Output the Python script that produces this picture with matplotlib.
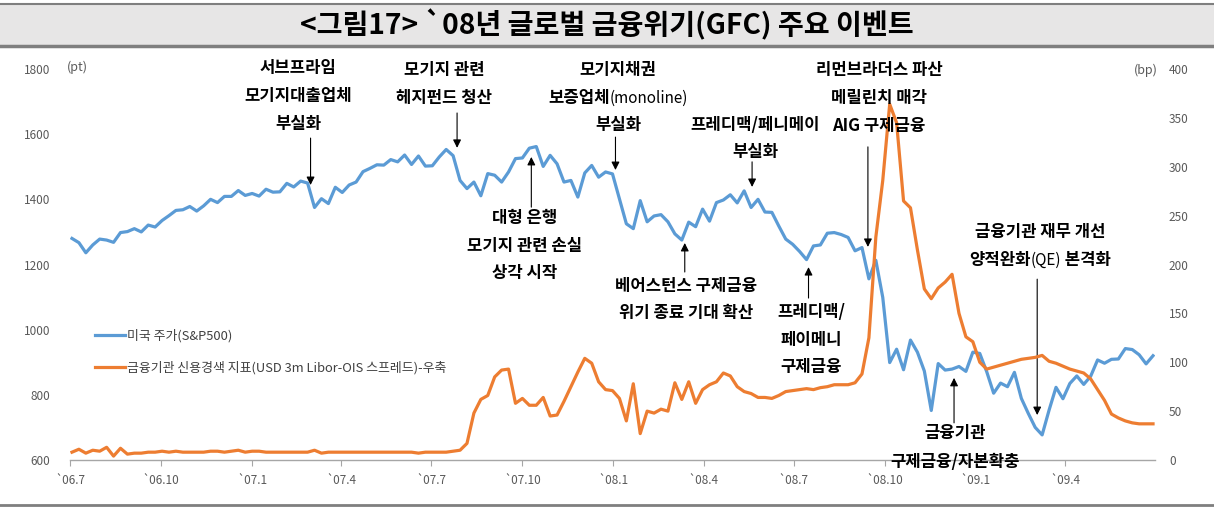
import matplotlib
matplotlib.use("Agg")
import matplotlib.pyplot as plt
from matplotlib.patches import Rectangle
from matplotlib.lines import Line2D
import pandas as pd

plt.rcParams['font.family'] = ['Noto Sans CJK KR', 'DejaVu Sans']

# ---------------- data (weekly, Monday-dated) ----------------
dates = pd.date_range('2006-07-03', periods=157, freq='7D')

sp500 = [
    # 2006
    1280, 1267, 1236, 1260, 1278, 1275, 1268, 1298, 1301, 1310, 1300, 1321, 1315,
    1335, 1350, 1366, 1368, 1378, 1364, 1380, 1400, 1390, 1409, 1409, 1427, 1412,
    # 2007
    1418, 1410, 1431, 1422, 1423, 1449, 1438, 1456, 1450, 1375, 1402, 1387, 1437,
    1421, 1444, 1453, 1485, 1495, 1506, 1505, 1522, 1515, 1536, 1507, 1533, 1502,
    1503, 1530, 1553, 1534, 1458, 1433, 1453, 1411, 1479, 1474, 1453, 1484, 1525,
    1527, 1557, 1562, 1501, 1535, 1509, 1453, 1458, 1407, 1481, 1504, 1468, 1484, 1478,
    # 2008
    1401, 1325, 1310, 1396, 1331, 1349, 1353, 1331, 1294, 1275, 1330, 1316, 1370,
    1333, 1390, 1398, 1414, 1389, 1426, 1375, 1400, 1361, 1360, 1318, 1278, 1262,
    1240, 1215, 1257, 1260, 1296, 1298, 1292, 1283, 1242, 1252, 1156, 1213, 1099,
    899, 940, 877, 968, 931, 873, 752, 896, 876, 879, 887, 872, 931,
    # 2009
    927, 871, 805, 836, 825, 869, 789, 743, 700, 677, 753, 823, 788,
    835, 858, 832, 857, 907, 897, 909, 910, 942, 939, 923, 895, 920,
]

libor_ois = [
    # 2006
    8, 11, 7, 10, 9, 13, 4, 12, 6, 7, 7, 8, 8,
    9, 8, 9, 8, 8, 8, 8, 9, 9, 8, 9, 10, 8,
    # 2007
    9, 9, 8, 8, 8, 8, 8, 8, 8, 10, 7, 8, 8,
    8, 8, 8, 8, 8, 8, 8, 8, 8, 8, 8, 7, 8,
    8, 8, 8, 9, 10, 17, 48, 62, 66, 85, 92, 93, 58,
    63, 56, 56, 64, 45, 46, 60, 75, 90, 104, 99, 80, 72, 71,
    # 2008
    63, 40, 78, 27, 50, 48, 52, 50, 79, 62, 80, 58, 72,
    77, 80, 89, 86, 75, 70, 68, 64, 64, 63, 66, 70, 71,
    72, 73, 72, 74, 75, 77, 77, 77, 79, 88, 125, 228, 286,
    364, 345, 265, 258, 215, 175, 165, 176, 182, 190, 150, 126, 121,
    # 2009
    100, 93, 95, 97, 99, 101, 103, 104, 105, 107, 101, 99, 96,
    93, 91, 89, 83, 72, 61, 47, 43, 40, 38, 37, 37, 37,
]

tick_dates = pd.date_range('2006-07-01', '2009-04-01', freq='QS-JAN')
tick_labels = ["`06.7", "`06.10", "`07.1", "`07.4", "`07.7", "`07.10",
               "`08.1", "`08.4", "`08.7", "`08.10", "`09.1", "`09.4"]

left_ticks = [600, 800, 1000, 1200, 1400, 1600, 1800]
right_ticks = [0, 50, 100, 150, 200, 250, 300, 350, 400]

series_labels = ["미국 주가(S&P500)",
                 "금융기관 신용경색 지표(USD 3m Libor-OIS 스프레드)-우축"]

# each line is a list of (text, bold?) parts
B = True
N = False
events = [
    ([[("서브프라임", B)], [("모기지대출업체", B)], [("부실화", B)]], 298, [68, 96, 124],
     ('2007-03-01', 1588), ('2007-03-01', 1444)),
    ([[("모기지 관련", B)], [("헤지펀드 청산", B)]], 444, [70, 98],
     ('2007-07-27', 1665), ('2007-07-27', 1558)),
    ([[("모기지채권", B)], [("보증업체", B), ("(monoline)", N)], [("부실화", B)]], 618, [70, 98, 125],
     ('2008-01-03', 1591), ('2008-01-03', 1490)),
    ([[("프레디맥/페니메이", B)], [("부실화", B)]], 755, [125, 152],
     ('2008-05-20', 1515), ('2008-05-20', 1438)),
    ([[("리먼브라더스 파산", B)], [("메릴린치 매각", B)], [("AIG 구제금융", B)]], 879, [70, 98, 126],
     ('2008-09-14', 1561), ('2008-09-14', 1254)),
    ([[("금융기관 재무 개선", B)], [("양적완화", B), ("(QE)", N), (" 본격화", B)]], 1040, [232, 260],
     ('2009-03-04', 1155), ('2009-03-04', 738)),
    ([[("대형 은행", B)], [("모기지 관련 손실", B)], [("상각 시작", B)]], 525, [218, 246, 273],
     ('2007-10-10', 1376), ('2007-10-10', 1530)),
    ([[("베어스턴스 구제금융", B)], [("위기 종료 기대 확산", B)]], 686, [286, 313],
     ('2008-03-13', 1177), ('2008-03-13', 1266)),
    ([[("프레디맥/", B)], [("페이메니", B)], [("구제금융", B)]], 811, [312, 340, 367],
     ('2008-07-16', 1097), ('2008-07-16', 1192)),
    ([[("금융기관", B)], [("구제금융/자본확충", B)]], 955, [433, 462],
     ('2008-12-10', 714), ('2008-12-10', 852)),
]

BLUE = '#5B9BD5'
ORANGE = '#ED7D31'
GRAY = '#595959'

W, H = 1214, 511
fig = plt.figure(figsize=(W / 100, H / 100), dpi=100)
fig.patch.set_facecolor('white')

def fx(x):
    return x / W

def fy(y):
    return 1 - y / H

# title band
fig.patches.append(Rectangle((0, fy(46)), 1, fy(4) - fy(46), transform=fig.transFigure,
                             facecolor='#e7e6e6', edgecolor='none', zorder=0))
fig.lines.append(Line2D([0, 1], [fy(4), fy(4)], transform=fig.transFigure,
                        color='#7f7f7f', lw=1.5))
fig.lines.append(Line2D([0, 1], [fy(46), fy(46)], transform=fig.transFigure,
                        color='#7f7f7f', lw=2.5))
fig.lines.append(Line2D([0, 1], [fy(505), fy(505)], transform=fig.transFigure,
                        color='#7f7f7f', lw=2.0))
fig.text(0.5, fy(25), "<그림17> `08년 글로벌 금융위기(GFC) 주요 이벤트",
         ha='center', va='center', fontsize=20.3, fontweight='bold', color='black')

ax = fig.add_axes([fx(70), fy(460), fx(1155) - fx(70), fy(69) - fy(460)])
ax2 = ax.twinx()

l1, = ax.plot(dates, sp500, color=BLUE, lw=2.3, solid_joinstyle='round', zorder=2)
l2, = ax2.plot(dates, libor_ois, color=ORANGE, lw=2.3, solid_joinstyle='round', zorder=3)

ax.set_xlim(pd.Timestamp('2006-07-01'), pd.Timestamp('2009-07-01'))
ax.set_ylim(600, 1800)
ax2.set_ylim(0, 400)
ax.set_yticks(left_ticks)
ax2.set_yticks(right_ticks)
ax.set_xticks(tick_dates)
ax.set_xticklabels(tick_labels)

for a in (ax, ax2):
    for s in ('top', 'left', 'right'):
        a.spines[s].set_visible(False)
    a.spines['bottom'].set_color('#a6a6a6')
    a.patch.set_visible(False)
ax.spines['bottom'].set_linewidth(1.0)
ax2.spines['bottom'].set_visible(False)

ax.tick_params(axis='y', length=0, pad=14, labelsize=8.5, labelcolor=GRAY)
ax2.tick_params(axis='y', length=0, pad=10, labelsize=8.5, labelcolor=GRAY)
ax.tick_params(axis='x', length=4, color='#a6a6a6', pad=6, labelsize=8.5, labelcolor=GRAY)

fig.text(fx(67), fy(67), "(pt)", ha='left', va='center', fontsize=9, color=GRAY)
fig.text(fx(1158), fy(70), "(bp)", ha='right', va='center', fontsize=9, color=GRAY)

leg = ax2.legend([l1, l2], series_labels, loc='upper left',
                 bbox_to_anchor=(fx(95), fy(329)), bbox_transform=fig.transFigure,
                 frameon=False, fontsize=9.3, handlelength=2.3, handletextpad=0.15,
                 labelspacing=1.45, borderpad=0, borderaxespad=0)
for t in leg.get_texts():
    t.set_color('#404040')

renderer = fig.canvas.get_renderer()

def place_line(parts, cx, y):
    objs = []
    widths = []
    for txt, bold in parts:
        t = fig.text(0, fy(y), txt, ha='left', va='center',
                     fontsize=12 if bold else 11,
                     fontweight='bold' if bold else 'normal', color='black')
        objs.append(t)
        widths.append(t.get_window_extent(renderer).width)
    x = cx - sum(widths) / 2
    for t, w in zip(objs, widths):
        t.set_x(fx(x))
        x += w

arrow_kw = dict(arrowstyle='-|>', color='black', lw=0.8, mutation_scale=12,
                shrinkA=0, shrinkB=0)
for lines, cx, ys, tail, tip in events:
    for parts, yy in zip(lines, ys):
        place_line(parts, cx, yy)
    ax.annotate('', xy=(pd.Timestamp(tip[0]), tip[1]),
                xytext=(pd.Timestamp(tail[0]), tail[1]),
                arrowprops=arrow_kw, annotation_clip=False, zorder=5)

fig.savefig('out.png', dpi=100)
